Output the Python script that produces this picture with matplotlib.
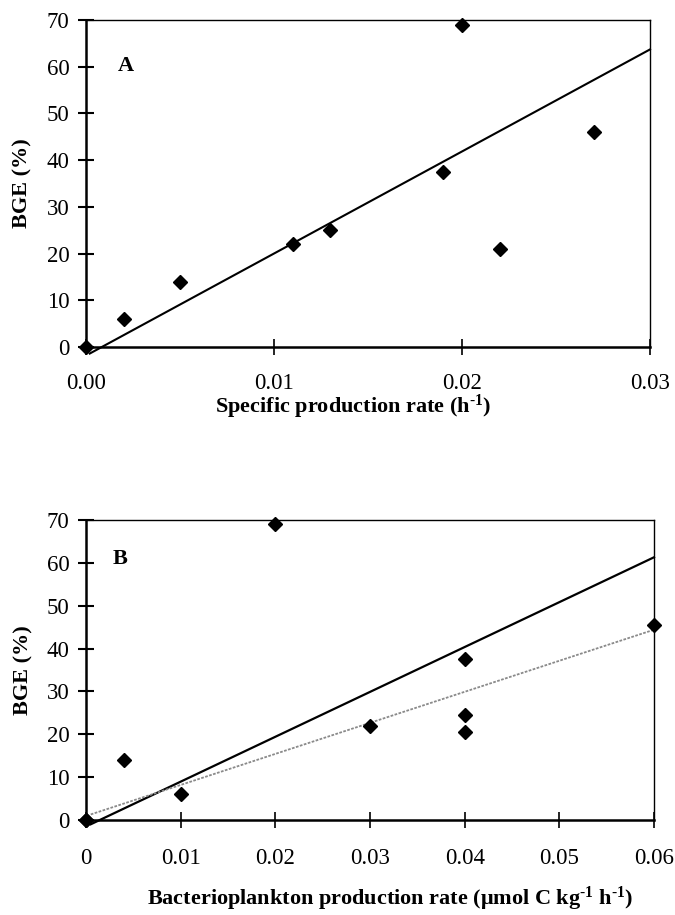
import numpy as np
import matplotlib
matplotlib.use('Agg')
import matplotlib.pyplot as plt

plt.rcParams['font.family'] = ['Liberation Serif', 'DejaVu Serif']
plt.rcParams['mathtext.fontset'] = 'custom'
plt.rcParams['mathtext.rm'] = 'Liberation Serif:bold'
plt.rcParams['mathtext.bf'] = 'Liberation Serif:bold'
plt.rcParams['mathtext.it'] = 'Liberation Serif:bold'

# panel A: BGE vs specific production rate
spec_rate = [0.0, 0.002, 0.005, 0.011, 0.013, 0.019, 0.020, 0.022, 0.027]
bge_a = [0, 6, 14, 22, 25, 37.5, 69, 21, 46]
fit_a_x = [0.0002, 0.03]
fit_a_y = [-1.4, 63.7]

# panel B: BGE vs bacterioplankton production rate
bp_rate = [0.0, 0.0, 0.004, 0.01, 0.02, 0.03, 0.04, 0.04, 0.04, 0.06]
bge_b = [0, 0, 14, 6, 69, 22, 37.5, 24.5, 20.5, 45.5]
fit_b_x = [0.0005, 0.06]
fit_b_y = [-1.0, 61.3]
fit_b2_x = [0.0005, 0.06]
fit_b2_y = [1.3, 44.4]

yticks = [0, 10, 20, 30, 40, 50, 60, 70]
xticks_a = [0.0, 0.01, 0.02, 0.03]
xticks_b = [0.0, 0.01, 0.02, 0.03, 0.04, 0.05, 0.06]

fig = plt.figure(figsize=(6.75, 9.15), dpi=100)
ax_a = fig.add_axes([86/675, 1-347/915, 564/675, 327/915])
ax_b = fig.add_axes([86/675, 1-820/915, 568/675, 300/915])


def style_axis(ax, xpad):
    for side in ['left', 'bottom']:
        ax.spines[side].set_linewidth(1.8)
    for side in ['top', 'right']:
        ax.spines[side].set_linewidth(1.0)
    ax.tick_params(axis='y', direction='inout', length=12, width=1.5,
                   labelsize=16.5, pad=6)
    ax.tick_params(axis='x', direction='inout', length=11, width=1.2,
                   labelsize=16.5, pad=xpad)
    ax.set_ylim(0, 70)
    ax.set_yticks(yticks)
    ax.set_ylabel('BGE (%)', fontsize=16, fontweight='bold')


# panel A
ax_a.plot(fit_a_x, fit_a_y, color='black', lw=1.5, clip_on=False)
ax_a.plot(spec_rate, bge_a, 'D', color='black', ms=6.8, clip_on=False, zorder=5)
ax_a.set_xlim(0, 0.03)
ax_a.set_xticks(xticks_a)
ax_a.set_xticklabels(['0.00', '0.01', '0.02', '0.03'])
style_axis(ax_a, 13)
ax_a.text(0.07, 0.86, 'A', transform=ax_a.transAxes, fontsize=16,
          fontweight='bold', va='center', ha='center')
ax_a.set_xlabel(r'Specific production rate (h$^{\text{-1}}$)', fontsize=16,
                fontweight='bold')
ax_a.xaxis.set_label_coords(0.473, -0.14)
ax_a.yaxis.set_label_coords(-0.094, 0.5)

# panel B
ax_b.plot(fit_b_x, fit_b_y, color='black', lw=1.6, clip_on=False)
ax_b.plot(fit_b2_x, fit_b2_y, color='#8a8a8a', lw=1.3, ls=(0, (1.5, 0.8)),
          clip_on=False)
ax_b.plot(bp_rate, bge_b, 'D', color='black', ms=6.8, clip_on=False, zorder=5)
ax_b.set_xlim(0, 0.06)
ax_b.set_xticks(xticks_b)
ax_b.set_xticklabels(['0', '0.01', '0.02', '0.03', '0.04', '0.05', '0.06'])
style_axis(ax_b, 15)
ax_b.text(0.06, 0.87, 'B', transform=ax_b.transAxes, fontsize=16,
          fontweight='bold', va='center', ha='center')
ax_b.set_xlabel('Bacterioplankton production rate (\u03bcmol C kg$^{\\text{-1}}$ h$^{\\text{-1}}$)',
                fontsize=16, fontweight='bold')
ax_b.xaxis.set_label_coords(0.535, -0.215)
ax_b.yaxis.set_label_coords(-0.093, 0.5)

fig.savefig('out.png', dpi=100)
